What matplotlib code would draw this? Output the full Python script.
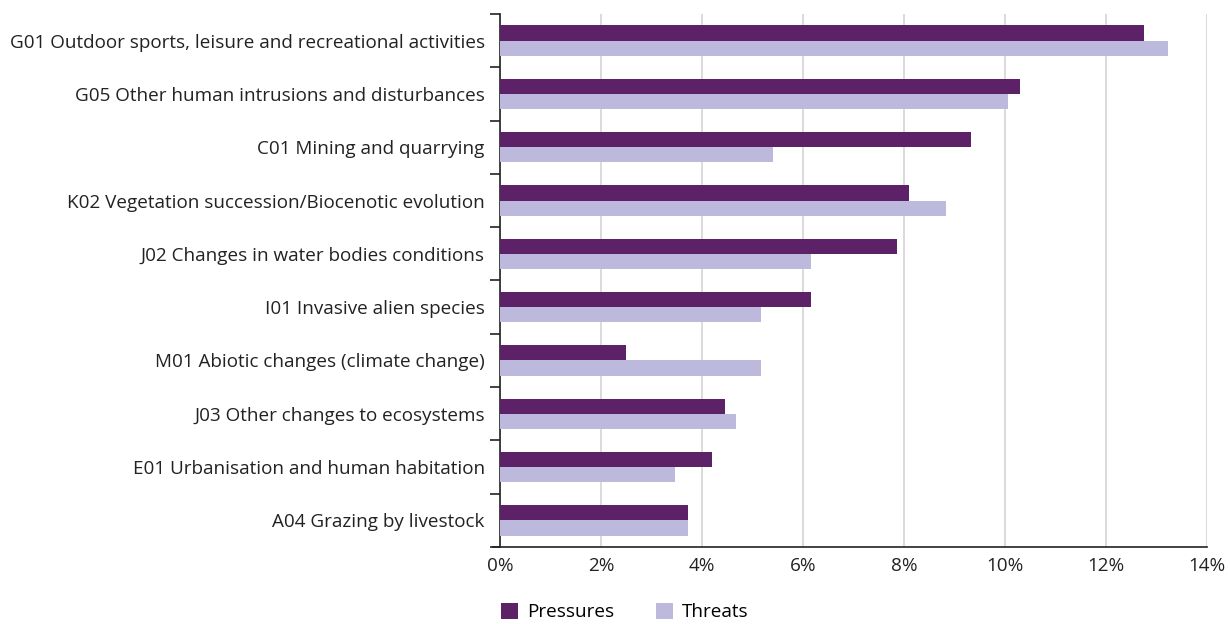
import matplotlib
matplotlib.use("Agg")
import matplotlib.pyplot as plt
import numpy as np
from matplotlib.ticker import FuncFormatter, FixedLocator

plt.rcParams['font.family'] = ['Open Sans', 'DejaVu Sans']

categories = [
    "G01 Outdoor sports, leisure and recreational activities",
    "G05 Other human intrusions and disturbances",
    "C01 Mining and quarrying",
    "K02 Vegetation succession/Biocenotic evolution",
    "J02 Changes in water bodies conditions",
    "I01 Invasive alien species",
    "M01 Abiotic changes (climate change)",
    "J03 Other changes to ecosystems",
    "E01 Urbanisation and human habitation",
    "A04 Grazing by livestock",
]
pressures = [12.75, 10.30, 9.33, 8.10, 7.87, 6.15, 2.49, 4.45, 4.19, 3.72]
threats = [13.22, 10.06, 5.41, 8.83, 6.15, 5.16, 5.16, 4.68, 3.46, 3.72]

c_press = "#5c2166"
c_threat = "#bcb9dc"
fs = 13.6

fig = plt.figure(figsize=(12.3, 6.24), dpi=100)
ax = fig.add_axes([0.4065, 0.1234, 0.5748, 0.8542])

y = np.arange(len(categories))
h = 0.285
ax.barh(y - h / 2, pressures, height=h, color=c_press, label="Pressures", zorder=3)
ax.barh(y + h / 2, threats, height=h, color=c_threat, label="Threats", zorder=3)

ax.set_ylim(len(categories) - 0.5, -0.5)
ax.set_xlim(0, 14)
ax.set_xticks(np.arange(0, 15, 2))
ax.xaxis.set_major_formatter(FuncFormatter(lambda v, p: f"{v:.0f}%"))
ax.tick_params(axis="x", length=0, pad=7, labelsize=fs, colors="#222222")

ax.set_yticks(y)
ax.set_yticklabels(categories)
ax.tick_params(axis="y", which="major", length=0, pad=11, labelsize=fs, colors="#222222")
ax.yaxis.set_minor_locator(FixedLocator(np.arange(-0.5, len(categories), 1)))
ax.tick_params(axis="y", which="minor", length=7, width=1.2, color="#222222")

ax.grid(axis="x", color="#d4d4d4", linewidth=1.2, zorder=0)
for s in ["top", "right"]:
    ax.spines[s].set_visible(False)
ax.spines["left"].set_color("#222222")
ax.spines["left"].set_linewidth(1.2)
ax.spines["bottom"].set_color("#222222")
ax.spines["bottom"].set_linewidth(1.2)
ax.spines["bottom"].set_bounds(-0.14, 14)

fig.legend(loc="center", bbox_to_anchor=(0.508, 0.019), ncol=2, frameon=False,
           fontsize=fs, handlelength=0.9, handleheight=0.9, columnspacing=2.2,
           handletextpad=0.5)

fig.savefig("out.png", dpi=100)
